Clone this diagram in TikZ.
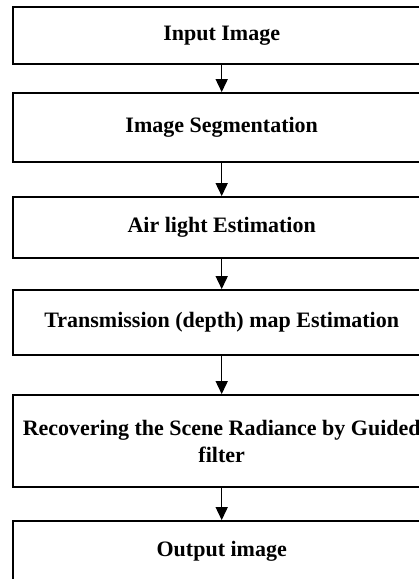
\documentclass[tikz,border=0pt]{standalone}
\usepackage{fontspec}
\setmainfont{Liberation Serif}
\usetikzlibrary{arrows.meta}
\begin{document}
\begin{tikzpicture}[x=1pt,y=1pt,
  box/.style={draw=black, line width=1.8pt, minimum width=417pt, inner sep=0pt,
    font=\fontsize{22}{27}\selectfont\bfseries, align=center, anchor=center},
  flow/.style={line width=1.5pt, -{Triangle[width=12pt,length=13pt]}}]
\useasboundingbox (0,0) rectangle (419,-579);
\clip (0,0) rectangle (419,-579);
\node[box, minimum height=57pt] (n1) at (221.7,-35.5) {Input Image};
\node[box, minimum height=69pt] (n2) at (221.7,-127.5) {Image Segmentation};
\node[box, minimum height=61pt] (n3) at (221.7,-227.5) {Air light Estimation};
\node[box, minimum height=65pt] (n4) at (221.7,-322.5) {Transmission (depth) map Estimation};
\node[box, minimum height=92pt] (n5) at (221.7,-441) {Recovering the Scene Radiance by Guided\\filter};
\node[box, minimum height=60pt] (n6) at (221.7,-551) {Output image};
\draw[flow] (n1.south) -- (n2.north);
\draw[flow] (n2.south) -- (n3.north);
\draw[flow] (n3.south) -- (n4.north);
\draw[flow] (n4.south) -- (n5.north);
\draw[flow] (n5.south) -- (n6.north);
\end{tikzpicture}
\end{document}
